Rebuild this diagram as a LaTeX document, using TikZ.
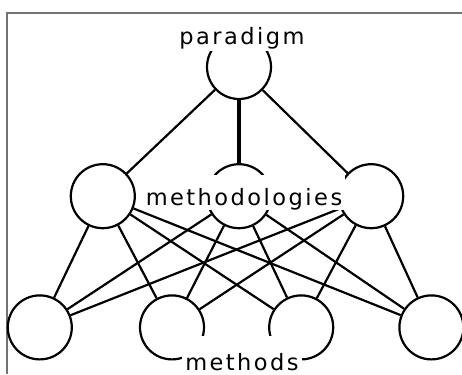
\documentclass[tikz,border=0pt]{standalone}
\usepackage{fontspec}
\usetikzlibrary{positioning}
\newfontfamily\lblfont[LetterSpace=11]{DejaVu Sans}

\begin{document}
\begin{tikzpicture}[
    blob/.style={draw, circle, minimum size=64pt, inner sep=0pt, line width=2.2pt},
    lbl/.style={fill=white, inner xsep=3pt, inner ysep=0pt, anchor=base,
                font=\lblfont\fontsize{22.5}{24}\selectfont},
    line width=2.2pt]
   \useasboundingbox (0,0) rectangle (462pt,-374pt);
   % frame
   \draw[black!55, line width=2pt] (7pt,-374pt) |- (462pt,-13pt);
   % circles
   \node[blob] (par) at (239pt,-67pt) {};
   \node[blob, below=63pt of par] (mB) {};
   \node[blob, left=70pt of mB] (mA) {};
   \node[blob, right=66pt of mB] (mC) {};
   \node[blob, below=65pt of mB, xshift=-67pt] (m2) {};
   \node[blob, left=66pt of m2] (m1) {};
   \node[blob, right=63pt of m2] (m3) {};
   \node[blob, right=64pt of m3] (m4) {};
   % connect them
   \draw
      (par) edge (mA)
      (par) edge[line width=3.5pt] (mB)
      (par) edge (mC)
      (mA) edge (m1) (mA) edge (m2) (mA) edge (m3) (mA) edge (m4)
      (mB) edge (m1) (mB) edge (m2) (mB) edge (m3) (mB) edge (m4)
      (mC) edge (m1) (mC) edge (m2) (mC) edge (m3) (mC) edge (m4)
      ;
   % labels
   \node[lbl, text height=24pt, text depth=6pt] (tpar) at (242pt,-45pt) {paradigm};
   \node[lbl, text height=30pt, text depth=5pt] (tmeth) at (244pt,-205pt) {methodologies};
   \node[lbl, text height=34pt, text depth=4pt] (tmet) at (242pt,-370pt) {methods};
\end{tikzpicture}
\end{document}
